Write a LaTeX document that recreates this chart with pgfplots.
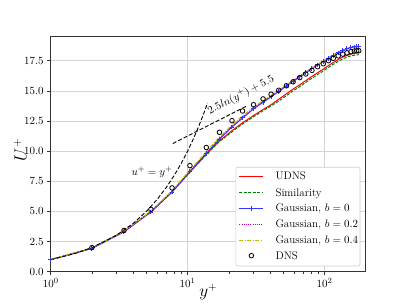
\documentclass[border=0pt]{standalone}
\usepackage{pgfplots}
\usepackage{pgfplotstable}
\pgfplotsset{compat=1.18}
\definecolor{mplgreen}{rgb}{0,0.5,0}
\definecolor{mplmag}{rgb}{0.75,0,0.75}
\definecolor{mplyel}{rgb}{0.75,0.75,0}
\definecolor{mplblue}{rgb}{0.2,0.2,1}
\definecolor{mplred}{rgb}{1,0,0}
\pgfplotstableread{
y     udns   sim    g0     g2     g4
1.0   1.00   1.00   1.00   1.00   1.00
2.0   1.95   1.95   1.93   1.94   1.96
3.43  3.35   3.35   3.30   3.32   3.36
5.4   5.00   5.00   4.95   4.98   5.03
7.7   6.65   6.60   6.60   6.65   6.72
10.4  8.30   8.25   8.30   8.36   8.44
13.7  9.75   9.70   9.80   9.87   9.97
17.1  10.85  10.80  11.00  11.07  11.17
21.1  11.70  11.60  12.00  12.07  12.17
25.2  12.35  12.25  12.75  12.82  12.92
30.3  12.95  12.85  13.50  13.57  13.66
35.6  13.45  13.35  14.05  14.12  14.20
40.7  13.85  13.75  14.50  14.57  14.64
46.3  14.30  14.15  14.95  15.02  15.08
52.7  14.75  14.60  15.40  15.46  15.51
59    15.15  15.00  15.80  15.86  15.90
66    15.50  15.35  16.15  16.21  16.24
73    15.85  15.70  16.50  16.55  16.57
81    16.20  16.05  16.85  16.90  16.91
89    16.50  16.35  17.15  17.19  17.19
98    16.80  16.65  17.45  17.49  17.48
107   17.10  16.95  17.70  17.74  17.72
116   17.35  17.20  17.95  17.98  17.95
126   17.60  17.45  18.15  18.18  18.14
136   17.80  17.65  18.35  18.37  18.32
146   17.95  17.80  18.50  18.51  18.46
156   18.05  17.90  18.60  18.60  18.55
165   18.12  17.95  18.65  18.64  18.59
172   18.15  17.98  18.68  18.66  18.61
178   18.15  18.00  18.68  18.66  18.61
}\models
\pgfplotstableread{
y     u
2.0   2.00
3.43  3.42
5.4   5.17
7.7   6.95
10.4  8.80
13.7  10.30
17.1  11.56
21.1  12.53
25.2  13.33
30.3  13.85
35.6  14.33
40.7  14.72
46.3  15.05
52.7  15.42
59    15.75
66    16.10
73    16.40
81    16.70
89    17.00
98    17.25
107   17.50
116   17.70
126   17.90
136   18.05
146   18.15
156   18.25
165   18.30
172   18.32
178   18.33
}\dns
\newcommand\legfont{\fontsize{11}{13}\selectfont}
\begin{document}
\begin{tikzpicture}
\useasboundingbox (-50.7pt,-33.3pt) rectangle (356.3pt,271.7pt);
\begin{semilogxaxis}[
  at={(0,0)}, anchor=south west,
  scale only axis, width=315pt, height=235.7pt,
  xmin=1, xmax=200, ymin=0, ymax=19.55,
  ytick={0,2.5,5,7.5,10,12.5,15,17.5},
  yticklabel style={/pgf/number format/fixed,/pgf/number format/fixed zerofill,/pgf/number format/precision=1},
  tick label style={font=\legfont},
  tick align=outside, tick pos=left,
  major tick length=3.5pt, minor tick length=2pt,
  tick style={black!80, line width=0.6pt},
  grid=major,
  major grid style={line width=0.7pt, black!17},
  axis line style={black!80, line width=0.7pt},
  xlabel={$y^+$}, ylabel={$U^+$},
  label style={font=\fontsize{16}{18}\selectfont},
  xlabel style={at={(axis description cs:0.5,-0.086)}, anchor=center},
  ylabel style={at={(axis description cs:-0.0975,0.516)}, anchor=center, rotate=0},
  clip=false,
]
\addplot[mplred, no marks, line width=1pt] table[x=y, y=udns] {\models};
\addplot[mplgreen, no marks, line width=1pt, dash pattern=on 3pt off 1.5pt] table[x=y, y=sim] {\models};
\addplot[mplblue, line width=1pt, mark=+, mark size=2.3pt, mark options={solid}] table[x=y, y=g0] {\models};
\addplot[mplmag, no marks, line width=1pt, dash pattern=on 1pt off 1.2pt] table[x=y, y=g2] {\models};
\addplot[mplyel, no marks, line width=1pt, dash pattern=on 4pt off 1.5pt on 1pt off 1.5pt] table[x=y, y=g4] {\models};
\addplot[only marks, black, mark=o, mark size=2.3pt, mark options={fill=white, line width=0.8pt}] table[x=y, y=u] {\dns};
\addplot[black, no marks, dash pattern=on 4pt off 2pt, line width=0.9pt] coordinates {
 (1,1) (1.5,1.5) (2,2) (3,3) (4,4) (5,5) (6,6) (7,7) (8,8) (9,9) (10,10) (11,11) (12,12) (13,13) (14,14)};
\addplot[black, no marks, dash pattern=on 4pt off 2pt, line width=0.9pt] coordinates {
 (7.8,10.635) (27,13.740)};
\node[font=\legfont] at (axis cs:5.49,8.27) {$u^+=y^+$};
\node[font=\legfont, rotate=27] at (axis cs:24.5,14.65) {$2.5ln(y^+)+5.5$};
% legend
\draw[black!20, line width=0.6pt, fill=white, rounded corners=2pt] (rel axis cs:0.588,0.024) rectangle (rel axis cs:0.982,0.443);
\draw[mplred, line width=1pt] (rel axis cs:0.599,0.406) -- (rel axis cs:0.675,0.406);
\draw[mplgreen, line width=1pt, dash pattern=on 3pt off 1.5pt] (rel axis cs:0.599,0.335) -- (rel axis cs:0.675,0.335);
\draw[mplblue, line width=1pt] (rel axis cs:0.599,0.269) -- (rel axis cs:0.675,0.269);
\draw[mplblue, line width=1pt] ([yshift=-2.3pt]rel axis cs:0.637,0.269) -- ([yshift=2.3pt]rel axis cs:0.637,0.269);
\draw[mplmag, line width=1pt, dash pattern=on 1pt off 1.2pt] (rel axis cs:0.599,0.202) -- (rel axis cs:0.675,0.202);
\draw[mplyel, line width=1pt, dash pattern=on 4pt off 1.5pt on 1pt off 1.5pt] (rel axis cs:0.599,0.134) -- (rel axis cs:0.675,0.134);
\draw[black, line width=0.8pt, fill=white] (rel axis cs:0.637,0.068) circle[radius=2.3pt];
\node[font=\legfont, anchor=base west] at ([yshift=-3.6pt]rel axis cs:0.7025,0.406) {UDNS};
\node[font=\legfont, anchor=base west] at ([yshift=-3.6pt]rel axis cs:0.7025,0.335) {Similarity};
\node[font=\legfont, anchor=base west] at ([yshift=-3.6pt]rel axis cs:0.7025,0.269) {Gaussian, $b=0$};
\node[font=\legfont, anchor=base west] at ([yshift=-3.6pt]rel axis cs:0.7025,0.202) {Gaussian, $b=0.2$};
\node[font=\legfont, anchor=base west] at ([yshift=-3.6pt]rel axis cs:0.7025,0.134) {Gaussian, $b=0.4$};
\node[font=\legfont, anchor=base west] at ([yshift=-3.6pt]rel axis cs:0.7025,0.068) {DNS};
\end{semilogxaxis}
\end{tikzpicture}
\end{document}
